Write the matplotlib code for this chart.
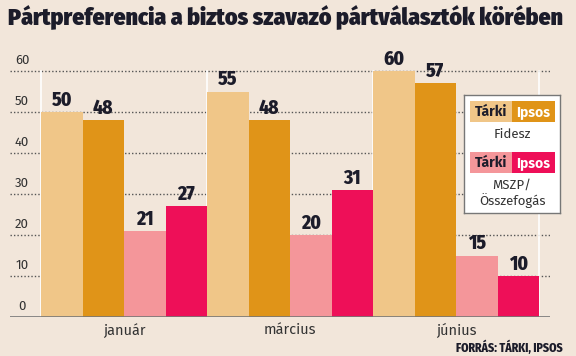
import matplotlib
matplotlib.use('Agg')
from matplotlib import pyplot as plt
from matplotlib.patches import Rectangle
import numpy as np

months = ['január', 'március', 'június']
tarki_fidesz = [50, 55, 60]
ipsos_fidesz = [48, 48, 57]
tarki_mszp = [21, 20, 15]
ipsos_mszp = [27, 31, 10]
yticks = [0, 10, 20, 30, 40, 50, 60]

bg = '#f2e6da'
c_tf = '#f0c688'
c_if = '#e09418'
c_tm = '#f4969a'
c_im = '#ee0f58'
dark = '#1c1c2a'
cond = ['Fira Sans Condensed', 'Roboto Condensed', 'Saira Condensed', 'DejaVu Sans']
plain = ['Fira Sans', 'Open Sans', 'DejaVu Sans']

fig = plt.figure(figsize=(5.76, 3.56), dpi=100)
fig.patch.set_facecolor(bg)
W, H = 576.0, 356.0

# axes: x pixel 10..550, y pixel 63..317
ax = fig.add_axes([10 / W, 1 - 317 / H, 540 / W, 254 / H])
ax.set_facecolor(bg)
ax.set_ylim(0, 62)
unit = 41.5
left = -0.5 - 31 / unit
ax.set_xlim(left, left + 540 / unit)

series = [tarki_fidesz, ipsos_fidesz, tarki_mszp, ipsos_mszp]
colors = [c_tf, c_if, c_tm, c_im]
for i, (vals, col) in enumerate(zip(series, colors)):
    x = np.arange(len(months)) * 4 + i
    ax.bar(x, vals, width=1.0, color=col, zorder=2, linewidth=0)
    for xi, v in zip(x, vals):
        ax.annotate(str(v), (xi, v), xytext=(0, 1.5), textcoords='offset points',
                    ha='center', va='bottom', fontsize=14, fontweight=800,
                    family=cond, color=dark, zorder=4)

# dotted gridlines and white group separators
for t in yticks[1:]:
    ax.axhline(t, color='#555555', linestyle=(0, (1, 1.5)), linewidth=1.0, zorder=1)
for g in range(len(months) + 1):
    ax.plot([g * 4 - 0.5] * 2, [0, 60], color='white', linewidth=1.2, zorder=1.5)
ax.axhline(0, color='#777777', linewidth=1.2, zorder=3)

for t in yticks:
    ax.annotate(str(t), (left + 12 / unit, t), xytext=(0, 3), textcoords='offset points',
                ha='center', va='bottom', fontsize=9.5, family=plain, color='#333333')

for g, m in enumerate(months):
    ax.text(g * 4 + 1.5, -3.2, m, ha='center', va='center', fontsize=10.5,
            family=plain, color='#333333')

for s in ax.spines.values():
    s.set_visible(False)
ax.set_xticks([])
ax.set_yticks([])

# title and source
fig.text(8 / W, 1 - 18 / H, 'Pártpreferencia a biztos szavazó pártválasztók körében',
         ha='left', va='center', fontsize=17, fontweight=900, family=cond, color=dark)
fig.text(563 / W, 1 - 347 / H, 'FORRÁS: TÁRKI, IPSOS', ha='right', va='center',
         fontsize=8.5, fontweight=800, family=cond, color=dark)

# legend box
lg = fig.add_axes([464 / W, 1 - 213 / H, 96 / W, 118 / H])
lg.set_xlim(0, 96)
lg.set_ylim(118, 0)
lg.set_facecolor('white')
for s in lg.spines.values():
    s.set_edgecolor('#777777')
    s.set_linewidth(1)
lg.set_xticks([])
lg.set_yticks([])
rows = [(6, c_tf, c_if, 'Fidesz'), (57, c_tm, c_im, 'MSZP/\nÖsszefogás')]
for y0, ca, cb, lab in rows:
    lg.add_patch(Rectangle((6, y0), 42, 21, color=ca, lw=0))
    lg.add_patch(Rectangle((48, y0), 43, 21, color=cb, lw=0))
    lg.text(27, y0 + 10.5, 'Tárki', ha='center', va='center', fontsize=10,
            fontweight='bold', family=plain, color=dark)
    lg.text(69.5, y0 + 10.5, 'Ipsos', ha='center', va='center', fontsize=10,
            fontweight='bold', family=plain, color='white')
    lg.text(48, y0 + 27, lab, ha='center', va='top', fontsize=9.5,
            family=plain, color='#333333', linespacing=1.1)

fig.savefig('out.png', dpi=100, facecolor=bg)
